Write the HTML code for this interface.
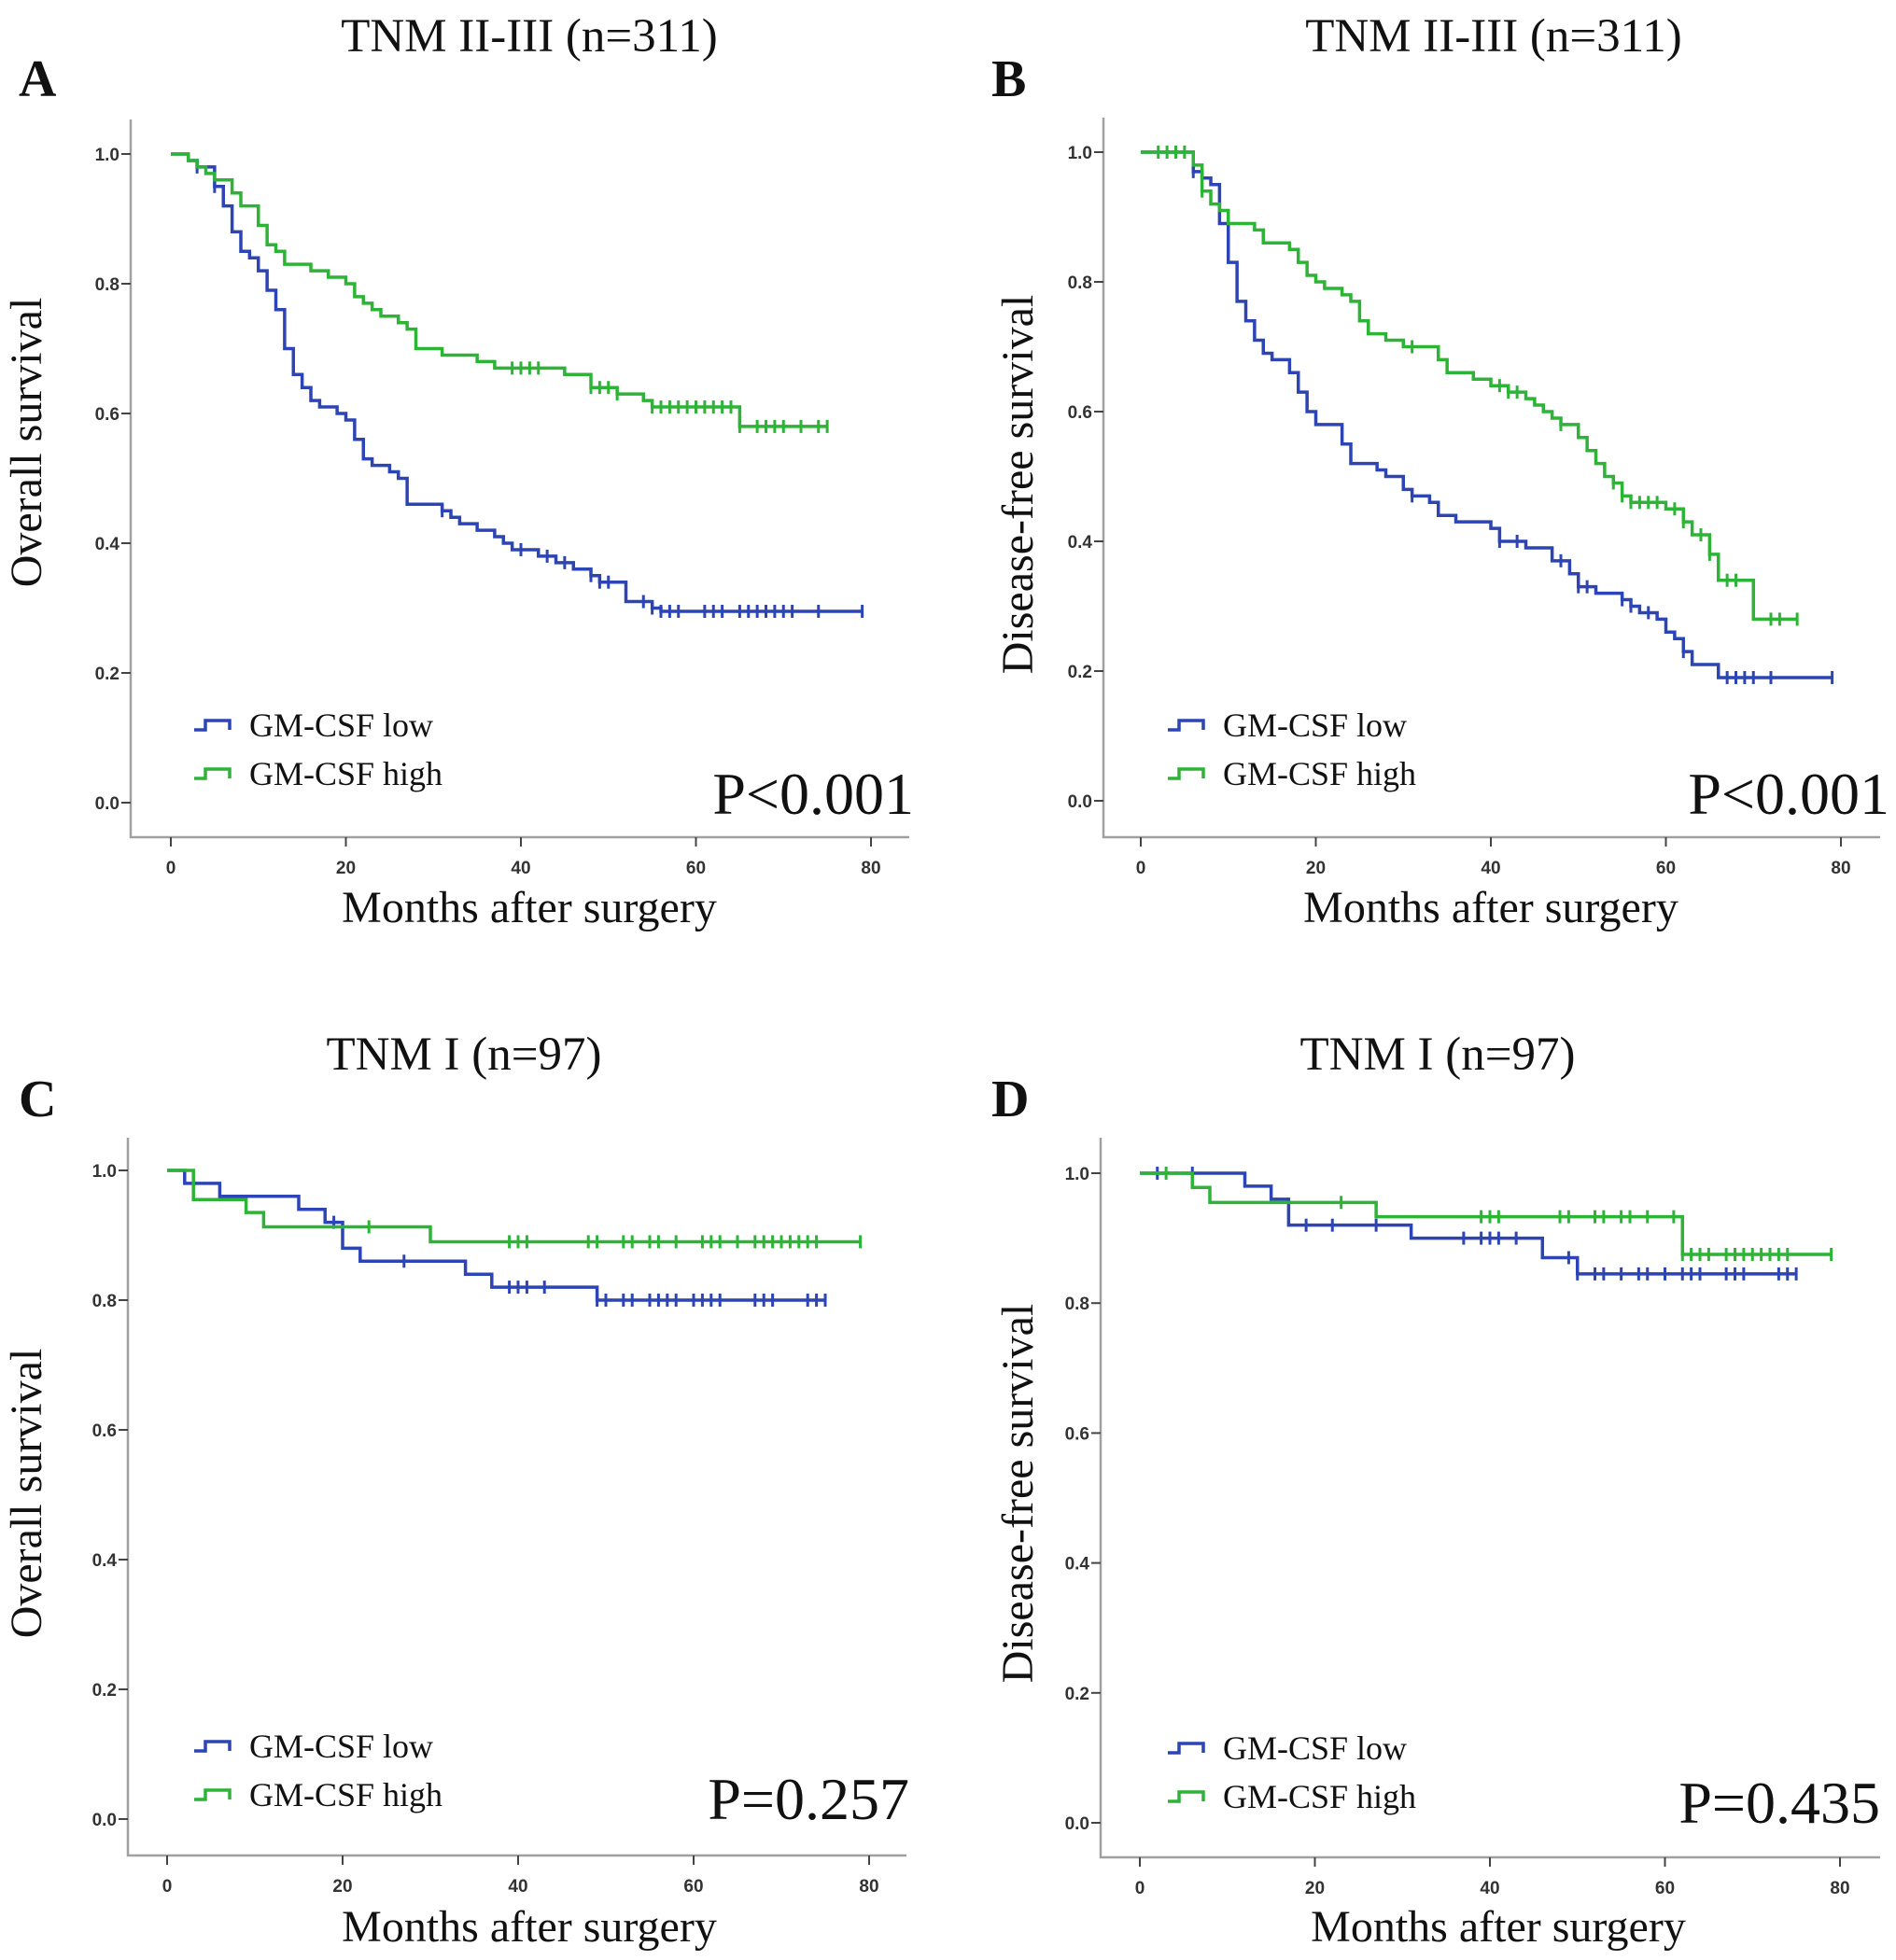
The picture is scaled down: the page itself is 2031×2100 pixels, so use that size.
<!DOCTYPE html>
<html><head><meta charset="utf-8">
<style>
html,body{margin:0;padding:0;background:#fff;}
svg{display:block;}
.serif{font-family:"Liberation Serif",serif;fill:#111;}
.tick{font-family:"Liberation Sans",sans-serif;font-size:19px;font-weight:bold;fill:#333;}
</style></head>
<body>
<svg id="fig" width="2031" height="2100" viewBox="0 0 2031 2100" xmlns="http://www.w3.org/2000/svg"></svg>
<script>
// ---- data (months, survival) ----
const xTicks = [0, 20, 40, 60, 80];
const yTicks = [0.0, 0.2, 0.4, 0.6, 0.8, 1.0];

const aLowT = [0,2,3,5,6,7,8,9,10,11,12,13,14,15,16,17,19,20,21,22,23,25,26,27,31,32,33,35,37,38,39,42,44,46,48,49,52,55,56];
const aLowS = [1,0.99,0.98,0.95,0.92,0.88,0.85,0.84,0.82,0.79,0.76,0.70,0.66,0.64,0.62,0.61,0.60,0.59,0.56,0.53,0.52,0.51,0.50,0.46,0.45,0.44,0.43,0.42,0.41,0.40,0.39,0.38,0.37,0.36,0.35,0.34,0.31,0.30,0.295];
const aLowEnd = 79;
const aLowC = [3,5,31,40,43,45,48,49,50,54,55,56,57,58,61,62,63,65,66,67,68,69,70,71,74,79];
const aHighT = [0,2,3,4,5,7,8,10,11,12,13,16,18,20,21,22,23,24,26,27,28,31,35,37,45,48,51,54,55,65];
const aHighS = [1,0.99,0.98,0.97,0.96,0.94,0.92,0.89,0.86,0.85,0.83,0.82,0.81,0.80,0.78,0.77,0.76,0.75,0.74,0.73,0.70,0.69,0.68,0.67,0.66,0.64,0.63,0.62,0.61,0.58];
const aHighEnd = 75;
const aHighC = [39,40,41,42,48,49,50,51,55,56,57,58,59,60,61,62,63,64,65,67,68,69,70,72,74,75];

const bLowT = [0,6,7,8,9,10,11,12,13,14,15,17,18,19,20,23,24,27,28,30,31,33,34,36,40,41,44,47,49,50,52,55,56,57,59,60,61,62,63,66];
const bLowS = [1,0.97,0.96,0.95,0.89,0.83,0.77,0.74,0.71,0.69,0.68,0.66,0.63,0.60,0.58,0.55,0.52,0.51,0.50,0.48,0.47,0.46,0.44,0.43,0.42,0.40,0.39,0.37,0.35,0.33,0.32,0.31,0.30,0.29,0.28,0.26,0.25,0.23,0.21,0.19];
const bLowEnd = 79;
const bLowC = [6,31,41,43,48,50,51,55,56,58,62,67,68,69,70,72,79];
const bHighT = [0,6,7,8,9,10,13,14,17,18,19,20,21,23,24,25,26,28,30,34,35,38,40,42,44,45,46,47,48,50,51,52,53,54,55,56,60,62,63,65,66,70];
const bHighS = [1,0.98,0.94,0.92,0.91,0.89,0.88,0.86,0.85,0.83,0.81,0.80,0.79,0.78,0.77,0.74,0.72,0.71,0.70,0.68,0.66,0.65,0.64,0.63,0.62,0.61,0.60,0.59,0.58,0.56,0.54,0.52,0.50,0.49,0.47,0.46,0.45,0.43,0.41,0.38,0.34,0.28];
const bHighEnd = 75;
const bHighC = [2,3,4,5,7,31,41,42,43,48,54,55,56,57,58,59,61,62,64,65,67,68,72,73,75];

const cLowT = [0,2,6,15,18,20,22,34,37,49];
const cLowS = [1,0.98,0.96,0.94,0.92,0.88,0.86,0.84,0.82,0.80];
const cLowEnd = 75;
const cLowC = [19,27,39,40,41,43,49,50,52,53,55,56,57,58,60,61,62,63,67,68,69,73,74,75];
const cHighT = [0,3,9,11,30];
const cHighS = [1,0.955,0.935,0.913,0.89];
const cHighEnd = 79;
const cHighC = [23,39,40,41,48,49,52,53,55,56,58,61,62,63,65,67,68,69,70,71,72,73,74,79];

const dLowT = [0,12,15,17,31,46,50];
const dLowS = [1,0.98,0.96,0.92,0.90,0.87,0.845];
const dLowEnd = 75;
const dLowC = [2,6,19,22,27,37,39,40,41,43,49,50,52,53,55,57,58,60,62,63,64,67,68,69,73,74,75];
const dHighT = [0,6,8,27,62];
const dHighS = [1,0.978,0.955,0.933,0.875];
const dHighEnd = 79;
const dHighC = [3,23,39,40,41,48,49,52,53,55,56,58,61,62,63,64,65,67,68,69,70,71,72,73,74,79];

// ---- layout ----
const NS = "http://www.w3.org/2000/svg";
const svg = document.getElementById('fig');
const BLUE = "#2c44b4", GREEN = "#2db336";
function mk(tag, attrs, parent){
  const e = document.createElementNS(NS, tag);
  for (const k in attrs) e.setAttribute(k, attrs[k]);
  (parent||svg).appendChild(e); return e;
}
const panels = [
 {id:'a', letter:'A', title:'TNM II\u2010III (n=311)', ylabel:'Overall survival', p:'P<0.001',
  x0:183, x80:933, y1:165, y0:860, left:140, top:128, bottom:897, right:974,
  titleX:567, titleY:55, letX:20, letY:103, ylX:44, ylY:474, xlX:567, xlY:988, pX:979, pY:872, legX:208, legY:777,
  low:[aLowT,aLowS,aLowEnd,aLowC], high:[aHighT,aHighS,aHighEnd,aHighC]},
 {id:'b', letter:'B', title:'TNM II\u2010III (n=311)', ylabel:'Disease-free survival', p:'P<0.001',
  x0:1222, x80:1972, y1:163, y0:858, left:1182, top:126, bottom:897, right:2014,
  titleX:1600, titleY:55, letX:1062, letY:103, ylX:1106, ylY:519, xlX:1597, xlY:988, pX:2024, pY:872, legX:1251, legY:777,
  low:[bLowT,bLowS,bLowEnd,bLowC], high:[bHighT,bHighS,bHighEnd,bHighC]},
 {id:'c', letter:'C', title:'TNM I (n=97)', ylabel:'Overall survival', p:'P=0.257',
  x0:179, x80:931, y1:1254, y0:1949, left:137, top:1219, bottom:1988, right:971,
  titleX:497, titleY:1146, letX:20, letY:1196, ylX:44, ylY:1600, xlX:567, xlY:2080, pX:974, pY:1949, legX:208, legY:1871,
  low:[cLowT,cLowS,cLowEnd,cLowC], high:[cHighT,cHighS,cHighEnd,cHighC]},
 {id:'d', letter:'D', title:'TNM I (n=97)', ylabel:'Disease-free survival', p:'P=0.435',
  x0:1221, x80:1971, y1:1257, y0:1953, left:1179, top:1219, bottom:1990, right:2014,
  titleX:1540, titleY:1146, letX:1062, letY:1196, ylX:1106, ylY:1600, xlX:1605, xlY:2080, pX:2014, pY:1953, legX:1251, legY:1873,
  low:[dLowT,dLowS,dLowEnd,dLowC], high:[dHighT,dHighS,dHighEnd,dHighC]}
];

function survAt(T,S,t){ let s=S[0]; for(let i=0;i<T.length;i++){ if(T[i]<=t) s=S[i]; } return s; }

panels.forEach(P=>{
  const g = mk('g',{});
  
  
  const X = t => P.x0 + (P.x80-P.x0)*t/80;
  const Y = s => P.y0 - (P.y0-P.y1)*s;

  let t = mk('text',{x:P.titleX,y:P.titleY,'text-anchor':'middle','font-size':51,class:'serif'},g); t.textContent=P.title;
   
  t = mk('text',{x:P.letX,y:P.letY,'font-size':56,'font-weight':'bold',class:'serif'},g); t.textContent=P.letter;
   

  const ax = mk('path',{d:`M${P.left} ${P.top} V${P.bottom} H${P.right}`,stroke:'#a0a0a0','stroke-width':2.5,fill:'none'},g);
   
  yTicks.forEach(v=>{
    mk('line',{x1:P.left-10,x2:P.left,y1:Y(v),y2:Y(v),stroke:'#444','stroke-width':2},g);
    const tl = mk('text',{x:P.left-12,y:Y(v)+7,'text-anchor':'end',class:'tick'},g);
    tl.textContent=v.toFixed(1);
     
  });
  xTicks.forEach(v=>{
    mk('line',{x1:X(v),x2:X(v),y1:P.bottom,y2:P.bottom+10,stroke:'#444','stroke-width':2},g);
    const tl = mk('text',{x:X(v),y:P.bottom+39,'text-anchor':'middle',class:'tick'},g);
    tl.textContent=v;
     
  });
  t = mk('text',{x:P.ylX,y:P.ylY,'text-anchor':'middle','font-size':48,class:'serif',transform:`rotate(-90 ${P.ylX} ${P.ylY})`},g);
  t.textContent=P.ylabel;  
  t = mk('text',{x:P.xlX,y:P.xlY,'text-anchor':'middle','font-size':48,class:'serif'},g);
  t.textContent='Months after surgery';  
  t = mk('text',{x:P.pX,y:P.pY,'text-anchor':'end','font-size':64,class:'serif'},g);
  t.textContent=P.p;  

  [[P.low,BLUE,'low'],[P.high,GREEN,'high']].forEach(([d,col,nm])=>{
    const [T,S,end,C]=d;
    let path = `M${X(T[0])} ${Y(S[0])}`;
    for(let i=1;i<T.length;i++){ path += ` H${X(T[i])} V${Y(S[i])}`; }
    path += ` H${X(end)}`;
    const c = mk('path',{d:path,stroke:col,'stroke-width':3.5,fill:'none'},g);
     
    C.forEach(ct=>{
      const yy = Y(survAt(T,S,ct)), xx = X(ct);
      const m = mk('path',{d:`M${xx} ${yy-7} V${yy+7}`,stroke:col,'stroke-width':3},g);
       
    });
  });

  [['GM-CSF low',BLUE,0],['GM-CSF high',GREEN,52]].forEach(([lab,col,dy])=>{
    const ly = P.legY+dy;
    const sym = mk('path',{d:`M${P.legX} ${ly+5} H${P.legX+12} V${ly-5} H${P.legX+38} V${ly+5}`,stroke:col,'stroke-width':3.5,fill:'none'},g);
     
    const lt = mk('text',{x:P.legX+59,y:ly+12,'font-size':36,class:'serif'},g);
    lt.textContent=lab;  
  });
});
</script>
</body></html>
